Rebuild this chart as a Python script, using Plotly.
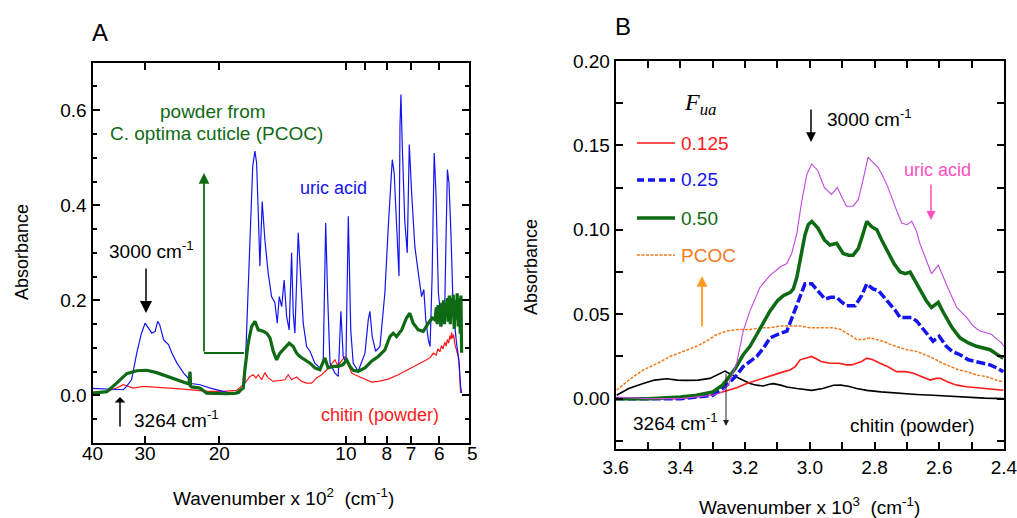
import math
import plotly.graph_objects as go

# ---------------- Panel A: full IR spectra (wavenumber x 10^2 cm^-1, log axis) ----------------
uric_wn = [40.0, 38.0, 36.0, 34.5, 33.8, 33.2, 32.3, 31.4, 30.6, 30.0, 29.5, 28.9, 28.4, 28.0, 27.7,
           27.1, 26.4, 25.9, 25.2, 24.3, 23.5, 23.4, 23.3, 22.2, 21.0, 19.9, 18.9, 17.9, 17.4, 17.21,
           16.90, 16.65, 16.45, 16.30, 16.15, 16.01, 15.81, 15.58, 15.30, 15.02, 14.75, 14.56, 14.40,
           14.21, 14.02, 13.83, 13.64, 13.46, 13.34, 13.22, 12.98, 12.79, 12.63, 12.40, 12.17, 11.85,
           11.53, 11.32, 11.17, 11.05, 10.91, 10.62, 10.43, 10.28, 10.15, 10.0, 9.87, 9.74, 9.61,
           9.35, 9.01, 8.85, 8.77, 8.66, 8.50, 8.30, 8.08, 7.93, 7.76, 7.68, 7.58, 7.48, 7.44, 7.40,
           7.35, 7.25, 7.15, 7.07, 6.98, 6.86, 6.73, 6.61, 6.53, 6.46, 6.37, 6.31, 6.24, 6.17, 6.11,
           6.03, 5.92, 5.82, 5.74, 5.69, 5.63, 5.56, 5.46, 5.39, 5.34, 5.31]
uric_abs = [0.015, 0.014, 0.013, 0.012, 0.012, 0.019, 0.033, 0.089, 0.131, 0.152, 0.142, 0.131, 0.135,
            0.156, 0.149, 0.117, 0.107, 0.089, 0.068, 0.047, 0.033, 0.050, 0.025, 0.0225, 0.0156,
            0.0105, 0.005, 0.005, 0.026, 0.138, 0.349, 0.482, 0.514, 0.489, 0.384, 0.272, 0.408,
            0.328, 0.258, 0.208, 0.195, 0.152, 0.208, 0.187, 0.243, 0.166, 0.138, 0.300, 0.173,
            0.131, 0.342, 0.244, 0.152, 0.103, 0.093, 0.068, 0.058, 0.075, 0.363, 0.208, 0.068,
            0.047, 0.040, 0.177, 0.082, 0.068, 0.377, 0.138, 0.068, 0.051, 0.089, 0.159, 0.177,
            0.124, 0.093, 0.103, 0.216, 0.356, 0.496, 0.468, 0.356, 0.251, 0.566, 0.633, 0.531,
            0.370, 0.300, 0.528, 0.426, 0.314, 0.258, 0.208, 0.223, 0.159, 0.117, 0.103, 0.251,
            0.510, 0.426, 0.216, 0.145, 0.201, 0.475, 0.447, 0.342, 0.180, 0.110, 0.075, 0.019, 0.005]

pcoc_wn = [40.0, 38.5, 37.0, 35.05, 33.17, 31.41, 29.74, 28.16, 26.66, 25.24, 23.90, 23.6, 23.47, 23.40,
           23.26, 22.23, 21.42, 20.28, 19.20, 18.18, 17.54, 17.38, 17.07, 16.75, 16.45, 16.15, 15.72,
           15.43, 15.15, 14.88, 14.61, 14.35, 13.96, 13.64, 13.34, 13.10, 12.86, 12.51, 12.17, 11.85,
           11.53, 11.22, 11.02, 10.72, 10.43, 10.15, 9.96, 9.78, 9.61, 9.35, 9.01, 8.69, 8.38, 8.08,
           7.86, 7.72, 7.58, 7.37, 7.18, 7.05, 6.92, 6.73, 6.55, 6.37, 6.24, 6.14, 6.10, 6.07, 6.04,
           6.01, 5.98, 5.95, 5.92, 5.89, 5.86, 5.83, 5.80, 5.77, 5.74, 5.71, 5.68, 5.65, 5.62, 5.59,
           5.56, 5.53, 5.50, 5.47, 5.44, 5.41, 5.38, 5.35, 5.33, 5.31]
pcoc_abs = [0.005, 0.006, 0.008, 0.026, 0.046, 0.052, 0.053, 0.048, 0.041, 0.033, 0.026, 0.024, 0.050,
            0.020, 0.018, 0.0156, 0.005, 0.0036, 0.0036, 0.005, 0.0156, 0.054, 0.110, 0.145, 0.156,
            0.138, 0.135, 0.131, 0.121, 0.093, 0.075, 0.089, 0.100, 0.110, 0.103, 0.089, 0.082,
            0.075, 0.068, 0.058, 0.054, 0.079, 0.058, 0.061, 0.061, 0.065, 0.075, 0.061, 0.053,
            0.051, 0.058, 0.072, 0.082, 0.096, 0.124, 0.131, 0.124, 0.138, 0.163, 0.173, 0.152,
            0.138, 0.135, 0.152, 0.163, 0.159, 0.185, 0.150, 0.190, 0.160, 0.175, 0.145, 0.195,
            0.160, 0.200, 0.150, 0.195, 0.165, 0.205, 0.155, 0.210, 0.150, 0.205, 0.165, 0.212,
            0.140, 0.200, 0.160, 0.215, 0.145, 0.205, 0.130, 0.210, 0.090]

chitin_wn = [40.0, 37.0, 35.05, 33.8, 32.9, 32.0, 30.3, 28.16, 26.18, 24.35, 22.62, 21.04, 19.57, 18.18,
             17.38, 16.90, 16.60, 16.36, 16.15, 15.86, 15.58, 15.30, 14.88, 14.35, 13.96, 13.71, 13.46,
             13.10, 12.74, 12.40, 12.06, 11.74, 11.42, 11.11, 10.81, 10.62, 10.49, 10.33, 10.06, 9.87,
             9.69, 9.52, 9.18, 8.93, 8.69, 8.38, 7.93, 7.51, 7.11, 6.73, 6.43, 6.30, 6.20, 6.10, 6.05,
             5.98, 5.93, 5.88, 5.82, 5.78, 5.74, 5.70, 5.66, 5.63, 5.61, 5.58, 5.55, 5.51, 5.47, 5.41,
             5.38, 5.36, 5.34]
chitin_abs = [0.006, 0.008, 0.0156, 0.0225, 0.019, 0.0156, 0.019, 0.0176, 0.0147, 0.0135, 0.0105,
              0.0084, 0.0084, 0.0105, 0.026, 0.040, 0.0435, 0.0366, 0.0435, 0.033, 0.048, 0.037,
              0.0295, 0.0316, 0.033, 0.0435, 0.033, 0.0387, 0.0295, 0.026, 0.026, 0.037, 0.0435,
              0.054, 0.068, 0.075, 0.065, 0.068, 0.082, 0.065, 0.047, 0.0435, 0.037, 0.033, 0.028,
              0.0295, 0.0345, 0.0435, 0.054, 0.065, 0.075, 0.080, 0.089, 0.085, 0.098, 0.092, 0.105,
              0.098, 0.112, 0.104, 0.118, 0.110, 0.126, 0.118, 0.133, 0.120, 0.128, 0.108, 0.098,
              0.082, 0.060, 0.015, 0.005]

a_xticks = [40, 30, 20, 10, 9, 8, 7, 6]
a_xticktext = ["40", "30", "20", "10", "", "8", "7", "6"]

# ---------------- Panel B: C-H / N-H stretch region (wavenumber x 10^3 cm^-1) ----------------
b_uric_wn = [3.60, 3.50, 3.40, 3.35, 3.30, 3.27, 3.25, 3.226, 3.206, 3.185, 3.154, 3.123, 3.092, 3.071,
             3.056, 3.040, 3.025, 3.009, 2.994, 2.975, 2.955, 2.933, 2.915, 2.900, 2.887, 2.866, 2.850,
             2.835, 2.820, 2.805, 2.789, 2.775, 2.758, 2.735, 2.716, 2.700, 2.685, 2.670, 2.660, 2.640,
             2.624, 2.603, 2.588, 2.565, 2.546, 2.515, 2.495, 2.474, 2.455, 2.438, 2.420, 2.407, 2.400]
b_uric_abs = [0.001, 0.000, 0.000, 0.001, 0.002, 0.004, 0.009, 0.021, 0.040, 0.052, 0.066, 0.073, 0.078,
              0.080, 0.086, 0.098, 0.117, 0.133, 0.139, 0.135, 0.125, 0.121, 0.125, 0.119, 0.114, 0.114,
              0.118, 0.130, 0.143, 0.140, 0.137, 0.132, 0.125, 0.113, 0.104, 0.103, 0.105, 0.099, 0.092,
              0.082, 0.074, 0.079, 0.072, 0.062, 0.054, 0.048, 0.043, 0.040, 0.039, 0.038, 0.035, 0.033,
              0.031]

b_f050_wn = [3.60, 3.50, 3.40, 3.35, 3.30, 3.27, 3.257, 3.23, 3.206, 3.185, 3.164, 3.143, 3.123, 3.100,
             3.082, 3.060, 3.051, 3.040, 3.025, 3.015, 3.005, 2.994, 2.975, 2.955, 2.938, 2.917, 2.897,
             2.880, 2.866, 2.850, 2.835, 2.824, 2.810, 2.793, 2.778, 2.763, 2.740, 2.721, 2.705, 2.690,
             2.675, 2.660, 2.640, 2.624, 2.603, 2.590, 2.578, 2.560, 2.536, 2.510, 2.485, 2.465, 2.443,
             2.420, 2.402]
b_f050_abs = [0.000, 0.000, 0.001, 0.002, 0.004, 0.008, 0.011, 0.018, 0.026, 0.031, 0.038, 0.045, 0.052,
              0.058, 0.061, 0.063, 0.065, 0.072, 0.088, 0.097, 0.103, 0.105, 0.101, 0.094, 0.091, 0.092,
              0.086, 0.085, 0.085, 0.089, 0.098, 0.105, 0.102, 0.100, 0.094, 0.088, 0.080, 0.075, 0.074,
              0.075, 0.070, 0.064, 0.058, 0.054, 0.057, 0.052, 0.048, 0.042, 0.036, 0.033, 0.031, 0.030,
              0.029, 0.026, 0.024]

b_f025_wn = [3.60, 3.50, 3.40, 3.35, 3.30, 3.257, 3.23, 3.206, 3.185, 3.164, 3.143, 3.123, 3.100, 3.071,
             3.055, 3.040, 3.025, 3.015, 2.994, 2.975, 2.953, 2.935, 2.917, 2.900, 2.887, 2.860, 2.840,
             2.824, 2.805, 2.788, 2.770, 2.752, 2.735, 2.721, 2.700, 2.685, 2.670, 2.654, 2.635, 2.619,
             2.600, 2.578, 2.560, 2.536, 2.510, 2.485, 2.465, 2.443, 2.420, 2.402]
b_f025_abs = [0.000, 0.000, 0.000, 0.001, 0.002, 0.008, 0.013, 0.019, 0.022, 0.025, 0.030, 0.036, 0.038,
              0.040, 0.048, 0.056, 0.063, 0.068, 0.068, 0.064, 0.059, 0.060, 0.060, 0.057, 0.055, 0.055,
              0.061, 0.068, 0.065, 0.064, 0.060, 0.056, 0.052, 0.048, 0.048, 0.048, 0.046, 0.042, 0.038,
              0.034, 0.037, 0.031, 0.028, 0.026, 0.023, 0.022, 0.021, 0.020, 0.018, 0.016]

b_f0125_wn = [3.60, 3.50, 3.40, 3.35, 3.309, 3.27, 3.226, 3.195, 3.164, 3.13, 3.102, 3.08, 3.061, 3.045,
              3.03, 3.015, 3.0, 2.994, 2.965, 2.938, 2.910, 2.887, 2.870, 2.855, 2.840, 2.824, 2.805,
              2.783, 2.760, 2.732, 2.705, 2.680, 2.655, 2.628, 2.610, 2.597, 2.575, 2.546, 2.515, 2.485,
              2.445, 2.402]
b_f0125_abs = [0.000, 0.000, 0.000, 0.001, 0.002, 0.004, 0.0065, 0.009, 0.011, 0.013, 0.015, 0.016,
               0.017, 0.019, 0.023, 0.024, 0.025, 0.025, 0.022, 0.021, 0.021, 0.020, 0.020, 0.021,
               0.022, 0.024, 0.023, 0.021, 0.019, 0.016, 0.016, 0.015, 0.013, 0.011, 0.012, 0.012,
               0.010, 0.008, 0.007, 0.0065, 0.006, 0.005]

b_pcoc_wn = [3.597, 3.56, 3.515, 3.47, 3.432, 3.39, 3.35, 3.32, 3.288, 3.257, 3.22, 3.185, 3.15, 3.123,
             3.09, 3.061, 3.03, 3.0, 2.96, 2.927, 2.905, 2.885, 2.870, 2.855, 2.835, 2.814, 2.795, 2.773,
             2.750, 2.721, 2.700, 2.670, 2.645, 2.619, 2.590, 2.567, 2.540, 2.515, 2.485, 2.453, 2.425,
             2.402]
b_pcoc_abs = [0.005, 0.011, 0.017, 0.021, 0.025, 0.028, 0.031, 0.034, 0.038, 0.040, 0.041, 0.041, 0.042,
              0.042, 0.043, 0.043, 0.043, 0.042, 0.042, 0.042, 0.041, 0.039, 0.037, 0.035, 0.035, 0.036,
              0.035, 0.034, 0.032, 0.030, 0.029, 0.028, 0.026, 0.024, 0.021, 0.019, 0.017, 0.016, 0.014,
              0.013, 0.011, 0.010]

b_chitin_wn = [3.597, 3.56, 3.515, 3.48, 3.442, 3.41, 3.38, 3.345, 3.309, 3.285, 3.262, 3.245, 3.226,
               3.205, 3.185, 3.165, 3.144, 3.125, 3.113, 3.09, 3.071, 3.04, 3.01, 2.994, 2.96, 2.927,
               2.905, 2.881, 2.855, 2.824, 2.78, 2.721, 2.67, 2.619, 2.57, 2.515, 2.46, 2.402]
b_chitin_abs = [0.002, 0.006, 0.009, 0.011, 0.0118, 0.011, 0.0108, 0.011, 0.012, 0.014, 0.0163, 0.0145,
                0.0128, 0.011, 0.009, 0.008, 0.0075, 0.0085, 0.0089, 0.008, 0.0069, 0.006, 0.005,
                0.0049, 0.006, 0.0079, 0.008, 0.0073, 0.006, 0.0049, 0.004, 0.003, 0.0025, 0.002,
                0.0015, 0.0006, 0.0003, 0.0]

b_xticks = [3.6, 3.5, 3.4, 3.3, 3.2, 3.1, 3.0, 2.9, 2.8, 2.7, 2.6, 2.5, 2.4]
b_xticktext = ["3.6", "", "3.4", "", "3.2", "", "3.0", "", "2.8", "", "2.6", "", "2.4"]
b_yticks = [-0.025, 0.0, 0.025, 0.05, 0.075, 0.10, 0.125, 0.15, 0.175, 0.20]
b_yticktext = ["", "0.00", "", "0.05", "", "0.10", "", "0.15", "", "0.20"]

legend_labels = ["0.125", "0.25", "0.50", "PCOC"]

# ---------------- colours & fonts ----------------
BLUE = "#1414f0"
RED = "#ff1a1a"
GREEN = "#0f6a14"
ORANGE_LINE = "#f07818"
ORANGE_TXT = "#f47a20"
ORANGE_ARROW = "#ff9a22"
VIOLET = "#c248e0"
PINK = "#ff4fc0"
FONT = "Liberation Sans, Arial, sans-serif"

W, H = 1017, 518


def fx(x):
    return x / W


def fy(y):
    return 1 - y / H


fig = go.Figure()

# Panel A traces
fig.add_trace(go.Scatter(x=chitin_wn, y=chitin_abs, mode="lines", line=dict(color=RED, width=1.2),
                         xaxis="x", yaxis="y", showlegend=False))
fig.add_trace(go.Scatter(x=uric_wn, y=uric_abs, mode="lines", line=dict(color=BLUE, width=1.2),
                         xaxis="x", yaxis="y", showlegend=False))
fig.add_trace(go.Scatter(x=pcoc_wn, y=pcoc_abs, mode="lines", line=dict(color=GREEN, width=3.2),
                         xaxis="x", yaxis="y", showlegend=False))

# Panel B traces
fig.add_trace(go.Scatter(x=b_chitin_wn, y=b_chitin_abs, mode="lines", line=dict(color="black", width=1.6),
                         xaxis="x2", yaxis="y2", showlegend=False))
fig.add_trace(go.Scatter(x=b_pcoc_wn, y=b_pcoc_abs, mode="lines",
                         line=dict(color=ORANGE_LINE, width=1.5, dash="3px,1.5px"),
                         xaxis="x2", yaxis="y2", showlegend=False))
fig.add_trace(go.Scatter(x=b_f0125_wn, y=b_f0125_abs, mode="lines", line=dict(color=RED, width=1.6),
                         xaxis="x2", yaxis="y2", showlegend=False))
fig.add_trace(go.Scatter(x=b_f025_wn, y=b_f025_abs, mode="lines",
                         line=dict(color=BLUE, width=3.5, dash="9px,3px"),
                         xaxis="x2", yaxis="y2", showlegend=False))
fig.add_trace(go.Scatter(x=b_f050_wn, y=b_f050_abs, mode="lines", line=dict(color=GREEN, width=3.5),
                         xaxis="x2", yaxis="y2", showlegend=False))
fig.add_trace(go.Scatter(x=b_uric_wn, y=b_uric_abs, mode="lines", line=dict(color=VIOLET, width=1.1),
                         xaxis="x2", yaxis="y2", showlegend=False))

axis_common = dict(showline=True, linecolor="black", linewidth=2, mirror="allticks", ticks="inside",
                   tickcolor="black", tickwidth=1.5, showgrid=False, zeroline=False, automargin=False,
                   ticklabeloverflow="allow", tickfont=dict(family=FONT, size=19, color="black"))

fig.update_layout(
    width=W, height=H, margin=dict(l=0, r=0, t=0, b=0, autoexpand=False),
    paper_bgcolor="white", plot_bgcolor="white", showlegend=False,
    xaxis=dict(axis_common, type="log", domain=[fx(92.5), fx(469)],
               range=[math.log10(40), math.log10(5.1)], tickvals=a_xticks, ticktext=a_xticktext,
               ticklen=7, anchor="y", ticklabelstandoff=-8),
    yaxis=dict(axis_common, domain=[fy(443), fy(62.7)], range=[-0.1, 0.7], dtick=0.2, tick0=0,
               tickformat=".1f", ticklen=7, anchor="x",
               minor=dict(dtick=0.05, tick0=0, ticks="inside", ticklen=4, tickcolor="black", tickwidth=1.5)),
    xaxis2=dict(axis_common, domain=[fx(615.7), fx(1004)], range=[3.6, 2.3999], tickvals=b_xticks,
                ticktext=b_xticktext, ticklen=7, anchor="y2"),
    yaxis2=dict(axis_common, domain=[fy(449.3), fy(61)], range=[-0.03, 0.2], tickvals=b_yticks,
                ticktext=b_yticktext, ticklen=7, anchor="x2"),
)


def label(text, x, y, color="black", size=19, family=FONT, angle=0, xanchor="center"):
    fig.add_annotation(text=text, x=fx(x), y=fy(y), xref="paper", yref="paper", showarrow=False,
                       font=dict(family=family, size=size, color=color), textangle=angle,
                       xanchor=xanchor, yanchor="middle")


def arrow(tip_x, tip_y, tail_x, tail_y, color="black", width=1.5, head=2, size=1.0):
    fig.add_annotation(text="", x=fx(tip_x), y=fy(tip_y), xref="paper", yref="paper", showarrow=True,
                       ax=tail_x - tip_x, ay=tail_y - tip_y, axref="pixel", ayref="pixel",
                       arrowhead=head, arrowsize=size, arrowwidth=width, arrowcolor=color, standoff=0)


# ---- Panel A labels ----
label("A", 100, 33, size=24)
label("powder from", 213, 111, color=GREEN)
label("C. optima cuticle (PCOC)", 216, 133, color=GREEN)
label("uric acid", 333, 188, color=BLUE, size=18)
label("3000 cm<sup>-1</sup>", 151, 250)
label("3264 cm<sup>-1</sup>", 176, 419)
label("chitin (powder)", 380, 415, color=RED, size=18)
label("5", 472.7, 453)
label("Wavenumber x 10<sup>2</sup>  (cm<sup>-1</sup>)", 283, 497)
label("Absorbance", 22, 252, angle=-90, size=18)
arrow(146, 313, 146, 267, width=1.5, head=2, size=1.6)
arrow(120, 397, 120, 428, width=1.5, head=1, size=1.2)
arrow(204, 173, 204, 353, color=GREEN, width=1.8, head=2, size=1.2)
fig.add_shape(type="line", xref="paper", yref="paper", x0=fx(204), y0=fy(353), x1=fx(244), y1=fy(353),
              line=dict(color=GREEN, width=1.8))

# ---- Panel B labels ----
label("B", 623, 26, size=24)
label("<i>F</i><sub><i>ua</i></sub>", 700, 104, size=24, family="Liberation Serif, Times New Roman, serif")
legend_styles = [(RED, 1.6, "solid"), (BLUE, 3.5, "7px,4px"), (GREEN, 3.5, "solid"),
                 (ORANGE_LINE, 1.5, "3px,1.5px")]
legend_colors = [RED, BLUE, GREEN, ORANGE_TXT]
legend_y = [143, 180, 218, 255]
for txt, (lc, lw, ld), tc, yy in zip(legend_labels, legend_styles, legend_colors, legend_y):
    fig.add_shape(type="line", xref="paper", yref="paper", x0=fx(637), y0=fy(yy), x1=fx(675), y1=fy(yy),
                  line=dict(color=lc, width=lw, dash=ld))
    label(txt, 679, yy, color=tc, xanchor="left")
arrow(702, 276, 702, 328, color=ORANGE_ARROW, width=1.8, head=2, size=1.2)
arrow(811, 142, 811, 108, width=1.5, head=2, size=1.3)
label("3000 cm<sup>-1</sup>", 869, 118)
label("uric acid", 937, 170, color=PINK, size=18)
arrow(931, 220, 931, 183, color=PINK, width=1.5, head=2, size=1.2)
arrow(726, 426, 726, 372, color="#222222", width=1, head=2, size=1.2)
label("3264 cm<sup>-1</sup>", 675, 422)
label("chitin (powder)", 912, 425)
label("Wavenumber x 10<sup>3</sup>  (cm<sup>-1</sup>)", 809, 506)
label("Absorbance", 531, 267, angle=-90, size=18)

fig.write_html("out.html")
